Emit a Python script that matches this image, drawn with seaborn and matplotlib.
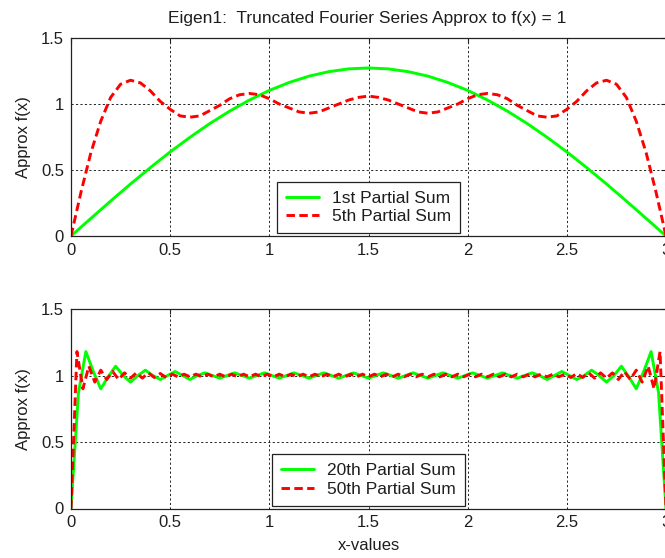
import numpy as np
import pandas as pd
import matplotlib
matplotlib.use("Agg")
import matplotlib.pyplot as plt
import seaborn as sns

# ---------------- data ----------------
title = "Eigen1:  Truncated Fourier Series Approx to f(x) = 1"
x_ticks = [0, 0.5, 1, 1.5, 2, 2.5, 3]
x_tick_labels = ["0", "0.5", "1", "1.5", "2", "2.5", "3"]
y_ticks = [0, 0.5, 1, 1.5]
y_tick_labels = ["0", "0.5", "1", "1.5"]

# 1st partial sum, x = 0 .. 3 (31 samples)
sum1 = [0.000, 0.133, 0.265, 0.394, 0.518, 0.637, 0.748, 0.852, 0.946, 1.030,
        1.103, 1.163, 1.211, 1.245, 1.266, 1.273, 1.266, 1.245, 1.211, 1.163,
        1.103, 1.030, 0.946, 0.852, 0.748, 0.637, 0.518, 0.394, 0.265, 0.133,
        0.000]

# 5th partial sum, x = 0 .. 3 (61 samples)
sum5 = [0.00, 0.33, 0.63, 0.87, 1.05, 1.15, 1.18, 1.16, 1.10, 1.02,
        0.96, 0.91, 0.90, 0.91, 0.95, 0.99, 1.04, 1.07, 1.08, 1.07,
        1.04, 1.00, 0.97, 0.94, 0.93, 0.94, 0.97, 1.00, 1.03, 1.05,
        1.06, 1.05, 1.03, 1.00, 0.97, 0.94, 0.93, 0.94, 0.97, 1.00,
        1.04, 1.07, 1.08, 1.07, 1.04, 0.99, 0.95, 0.91, 0.90, 0.91,
        0.96, 1.02, 1.10, 1.16, 1.18, 1.15, 1.05, 0.87, 0.63, 0.33,
        0.00]

# 20th partial sum, x = 0 .. 3 (81 samples)
sum20 = [0.00, 0.87, 1.18, 1.03, 0.90, 0.99, 1.07, 1.00, 0.95, 1.00,
         1.04, 1.00, 0.97, 1.00, 1.03, 1.00, 0.97, 1.00, 1.02, 1.00,
         0.98, 1.00, 1.02, 1.00, 0.98, 1.00, 1.02, 1.00, 0.98, 1.00,
         1.02, 1.00, 0.98, 1.00, 1.02, 1.00, 0.98, 1.00, 1.02, 1.00,
         0.98, 1.00, 1.02, 1.00, 0.98, 1.00, 1.02, 1.00, 0.98, 1.00,
         1.02, 1.00, 0.98, 1.00, 1.02, 1.00, 0.98, 1.00, 1.02, 1.00,
         0.98, 1.00, 1.02, 1.00, 0.97, 1.00, 1.03, 1.00, 0.97, 1.00,
         1.04, 1.00, 0.95, 1.00, 1.07, 0.99, 0.90, 1.03, 1.18, 0.87,
         0.00]

# 50th partial sum, x = 0 .. 3 (101 samples)
sum50 = [0.00, 1.18, 0.90, 1.07, 0.95, 1.04, 0.97, 1.03, 0.97, 1.02,
         0.98, 1.02, 0.98, 1.02, 0.985, 1.015, 0.985, 1.01, 0.99, 1.01,
         0.99, 1.01, 0.99, 1.01, 0.99, 1.01, 0.99, 1.01, 0.99, 1.01,
         0.99, 1.01, 0.99, 1.01, 0.99, 1.01, 0.99, 1.01, 0.99, 1.01,
         0.99, 1.01, 0.99, 1.01, 0.99, 1.01, 0.99, 1.01, 0.99, 1.01,
         0.99, 1.01, 0.99, 1.01, 0.99, 1.01, 0.99, 1.01, 0.99, 1.01,
         0.99, 1.01, 0.99, 1.01, 0.99, 1.01, 0.99, 1.01, 0.99, 1.01,
         0.99, 1.01, 0.99, 1.01, 0.99, 1.01, 0.99, 1.01, 0.99, 1.01,
         0.99, 1.01, 0.99, 1.01, 0.985, 1.015, 0.985, 1.02, 0.98, 1.02,
         0.98, 1.02, 0.97, 1.03, 0.97, 1.04, 0.95, 1.07, 0.90, 1.18,
         0.00]

labels_top = ["1st Partial Sum", "5th Partial Sum"]
labels_bot = ["20th Partial Sum", "50th Partial Sum"]
x_range = (0, 3)

# ---------------- style ----------------
sns.set_style("white")
plt.rcParams['font.family'] = ['Liberation Sans', 'DejaVu Sans']
plt.rcParams['axes.linewidth'] = 0.9

GREEN = (0, 1, 0)
RED = (1, 0, 0)
TXT = "#1e1e1e"
FS_TICK = 12
FS_LAB = 12
FS_LEG = 12.5
FS_TITLE = 12.5

W, H = 665, 558
fig = plt.figure(figsize=(W / 100, H / 100), dpi=100)
fig.patch.set_facecolor("white")

ax1 = fig.add_axes([71 / W, 1 - 236 / H, 595 / W, 198 / H])
ax2 = fig.add_axes([71 / W, 1 - 508.5 / H, 595 / W, 199.5 / H])


def series_frame(vals):
    return pd.DataFrame({"x": np.linspace(x_range[0], x_range[1], len(vals)),
                         "y": vals})


def draw(ax, green_vals, red_vals, labels):
    dg = series_frame(green_vals)
    dr = series_frame(red_vals)
    sns.lineplot(data=dg, x="x", y="y", ax=ax, color=GREEN, linewidth=2.1,
                 label=labels[0], sort=False, estimator=None)
    sns.lineplot(data=dr, x="x", y="y", ax=ax, color=RED, linewidth=2.1,
                 linestyle=(0, (2.9, 1.5)), label=labels[1], sort=False,
                 estimator=None)
    ax.set_xlim(*x_range)
    ax.set_ylim(0, 1.5)
    ax.set_xticks(x_ticks)
    ax.set_xticklabels(x_tick_labels)
    ax.set_yticks(y_ticks)
    ax.set_yticklabels(y_tick_labels)
    ax.grid(True, color="#222222", linestyle=(0, (2.2, 2.4)), linewidth=0.7)
    ax.set_axisbelow(True)
    ax.tick_params(direction="in", length=3.5, width=0.8, top=True,
                   right=True, labelsize=FS_TICK, pad=5, colors="#222222")
    for t in ax.get_xticklabels() + ax.get_yticklabels():
        t.set_color(TXT)
    for s in ax.spines.values():
        s.set_color("#222222")
        s.set_visible(True)
    ax.set_ylabel("Approx f(x)", fontsize=FS_LAB, color=TXT)
    ax.yaxis.set_label_coords(-0.068, 0.5)
    ax.set_xlabel("")
    leg = ax.legend(loc="lower center", bbox_to_anchor=(0.5, 0.015),
                    frameon=True, fancybox=False, framealpha=1,
                    edgecolor="#222222", fontsize=FS_LEG, handlelength=1.9,
                    handletextpad=0.75, borderpad=0.5, labelspacing=0.2,
                    borderaxespad=0)
    leg.get_frame().set_linewidth(0.9)
    for t in leg.get_texts():
        t.set_color(TXT)


draw(ax1, sum1, sum5, labels_top)
draw(ax2, sum20, sum50, labels_bot)

ax2.set_xlabel("x-values", fontsize=FS_LAB, color=TXT)
ax2.xaxis.set_label_coords(0.5, -0.15)
fig.text(367 / W, 1 - 19 / H, title, ha="center", va="center",
         fontsize=FS_TITLE, color=TXT)

fig.savefig("out.png", dpi=100, facecolor="white")
